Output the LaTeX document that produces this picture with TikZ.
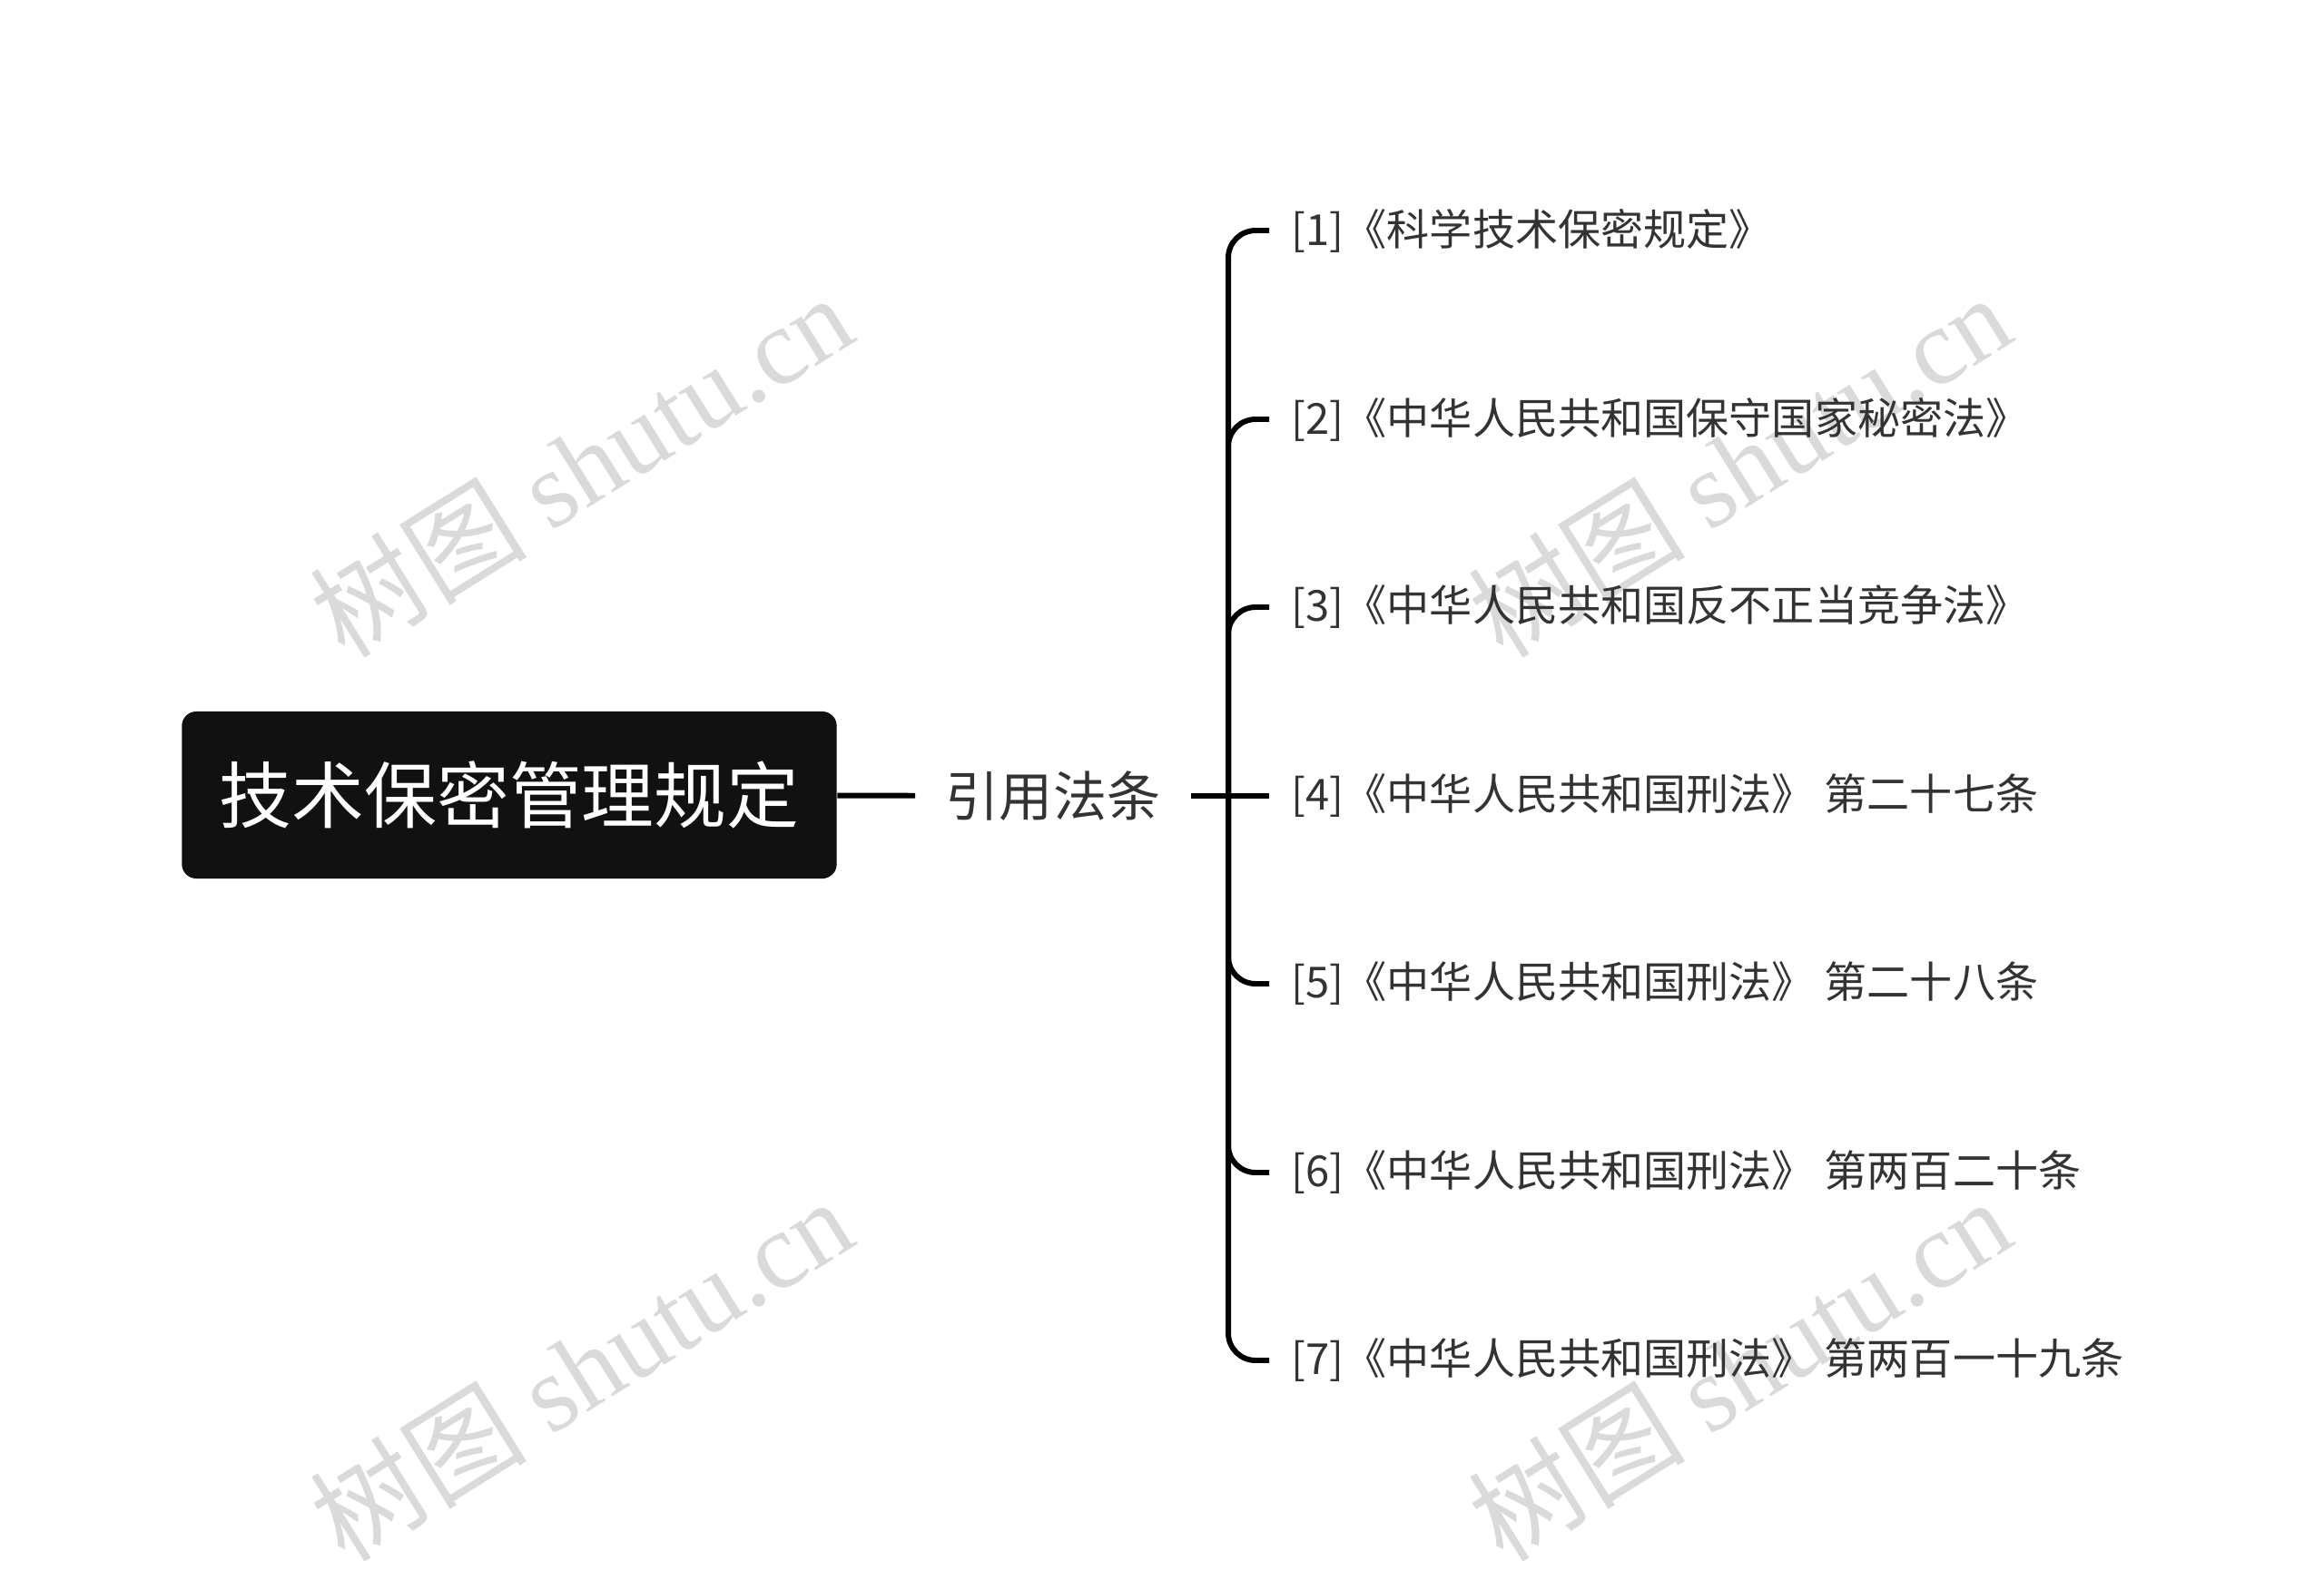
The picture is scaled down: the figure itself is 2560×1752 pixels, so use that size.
\documentclass[tikz,border=0pt]{standalone}
\usepackage{fontspec}
\setmainfont{Noto Sans CJK SC}
\newfontfamily\wmlatin{Liberation Serif}
\usetikzlibrary{positioning}
\definecolor{rootfill}{HTML}{111111}
\definecolor{leaftext}{HTML}{333333}
\definecolor{wmgray}{HTML}{DADADA}
\tikzstyle{rootnode}=[fill=rootfill, rounded corners=0.16cm, text=white, minimum width=7.21cm, minimum height=1.84cm, font=\fontsize{22.7pt}{26pt}\selectfont]
\tikzstyle{midnode}=[text=leaftext, inner xsep=0.33cm, font=\fontsize{16.8pt}{20pt}\selectfont]
\tikzstyle{leafnode}=[anchor=west, text=leaftext, inner xsep=0.24cm, font=\fontsize{13.4pt}{16pt}\selectfont]
\tikzstyle{conn}=[line width=1.7pt, black, rounded corners=0.3cm]
\tikzstyle{wmark}=[text=wmgray, rotate=32, font=\fontsize{34pt}{37pt}\selectfont]

\begin{document}
\begin{tikzpicture}[x=0.01cm, y=-0.01cm]
    \useasboundingbox (0,0) rectangle (2560,1752);
    % watermarks
    \node[wmark] (w1) at (640,512) {树图 {\wmlatin shutu.cn}};
    \node[wmark] (w2) at (1916,512) {树图 {\wmlatin shutu.cn}};
    \node[wmark] (w3) at (640,1508) {树图 {\wmlatin shutu.cn}};
    \node[wmark] (w4) at (1916,1508) {树图 {\wmlatin shutu.cn}};

    % Place root and topic
    \node[rootnode] (root) at (561,876) {技术保密管理规定};
    \node[midnode] (cite) at (1160,877) {引用法条};
    \coordinate (bus) at (1353,877);

    % Place cited laws
    \node[leafnode] (l1) at (1398,254) {[1]《科学技术保密规定》};
    \node[leafnode] (l2) at (1398,462) {[2]《中华人民共和国保守国家秘密法》};
    \node[leafnode] (l3) at (1398,669) {[3]《中华人民共和国反不正当竞争法》};
    \node[leafnode] (l4) at (1398,877) {[4]《中华人民共和国刑法》 第二十七条};
    \node[leafnode] (l5) at (1398,1084) {[5]《中华人民共和国刑法》 第二十八条};
    \node[leafnode] (l6) at (1398,1292) {[6]《中华人民共和国刑法》 第两百二十条};
    \node[leafnode] (l7) at (1398,1499) {[7]《中华人民共和国刑法》 第两百一十九条};

    \draw[conn] (root) -- (cite);
    \draw[conn] (cite) -- (bus);
    \foreach \i in {1,2,3,5,6,7}
      \draw[conn] (bus) |- (l\i.west);
    \draw[conn] (bus) -- (l4.west);

\end{tikzpicture}
\end{document}
